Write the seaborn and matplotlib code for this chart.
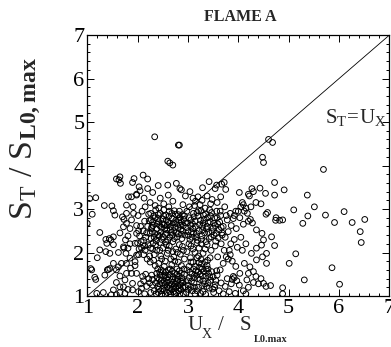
import numpy as np
import pandas as pd
import matplotlib
matplotlib.use("Agg")
import matplotlib.pyplot as plt
from matplotlib.ticker import MultipleLocator
import seaborn as sns

# points, grouped by region (U_X/S_L0max, S_T/S_L0max)
outliers_right = [(4.88, 1.19), (4.88, 1.05), (4.88, 2.75), (4.91, 3.44), (5.10, 2.98), (5.01, 1.75),
                  (5.14, 1.97), (5.28, 2.67), (5.37, 3.32), (5.38, 2.84), (5.51, 3.05), (5.31, 1.37),
                  (5.69, 3.91), (5.73, 2.86), (5.91, 2.69), (5.86, 1.65), (6.10, 2.94), (6.26, 2.69),
                  (6.42, 2.48), (6.44, 2.23), (6.51, 2.76), (6.01, 1.27)]
outliers_top = [(2.34, 4.66), (2.81, 4.47), (2.83, 4.47), (2.60, 4.10), (2.64, 4.06), (2.70, 4.01),
                (4.60, 4.60), (4.68, 4.53), (4.48, 4.19), (4.50, 4.07)]
left_pts = [(1.00, 2.67), (1.10, 2.88), (1.05, 3.24), (1.17, 3.26), (1.25, 2.46), (1.20, 1.88), (1.07, 1.63),
            (1.15, 1.43), (1.17, 1.38), (1.19, 1.06), (1.32, 1.08), (1.34, 3.08), (1.49, 3.07), (1.52, 2.96),
            (1.55, 2.86), (1.37, 2.30), (1.44, 2.32), (1.47, 2.29), (1.37, 2.02), (1.52, 2.18), (1.45, 1.98),
            (1.42, 1.61), (1.40, 1.60), (1.45, 1.63), (1.52, 1.75), (1.62, 1.67), (1.65, 1.46), (1.58, 1.31),
            (1.48, 1.03), (1.58, 1.03), (1.65, 1.08), (1.66, 3.59), (1.58, 3.69), (1.63, 3.67), (1.65, 3.74),
            (1.70, 2.82), (1.73, 2.76), (1.78, 2.90), (1.72, 2.59), (1.78, 2.67), (1.81, 2.38), (1.76, 2.29),
            (1.73, 2.10), (1.81, 2.10), (1.77, 1.98), (1.85, 1.87), (1.78, 1.75), (1.86, 1.64), (1.78, 1.52),
            (1.75, 1.37), (1.72, 1.21), (1.81, 1.15), (1.75, 1.06), (1.90, 1.29), (1.90, 1.14), (1.78, 3.09),
            (1.90, 3.61), (1.93, 3.70), (1.88, 3.28), (1.98, 3.34), (1.91, 3.05), (1.88, 2.75), (1.98, 2.44),
            (1.95, 2.21), (1.98, 1.94), (1.95, 1.79), (1.98, 1.52), (1.52, 2.36), (1.39, 2.21), (1.65, 2.45),
            (1.72, 2.13), (1.68, 1.75), (1.58, 1.60), (1.35, 1.48), (1.25, 2.06), (1.09, 1.60), (1.52, 1.14),
            (1.65, 1.21), (1.88, 1.52), (1.95, 1.70), (1.62, 2.00), (1.85, 2.55), (1.92, 2.90), (1.85, 2.20)]
band_pts = [(2.00, 2.22), (2.04, 2.38), (2.08, 2.10), (2.02, 1.95), (2.12, 2.28), (2.15, 2.05), (2.18, 2.45),
            (2.21, 2.18), (2.24, 1.92), (2.06, 2.60), (2.14, 2.72), (2.20, 2.60), (2.27, 2.32), (2.30, 2.08),
            (2.25, 1.78), (2.33, 1.95), (2.36, 2.18), (2.28, 2.55), (2.11, 2.50), (2.01, 2.85), (2.09, 2.95),
            (2.22, 2.88), (2.16, 2.35), (2.35, 1.70), (2.38, 2.05), (2.26, 2.10), (2.12, 1.95), (1.98, 2.62),
            (2.03, 2.08), (2.19, 1.85), (2.31, 2.22), (2.07, 2.25), (2.23, 2.73), (2.14, 2.15), (2.32, 1.82),
            (2.25, 2.45), (2.02, 2.50), (2.02, 1.10), (2.06, 1.28), (2.10, 1.45), (2.14, 1.05), (2.18, 1.22),
            (2.22, 1.40), (2.26, 1.08), (2.30, 1.25), (2.28, 1.48), (2.12, 1.35), (2.33, 1.12), (2.08, 1.18),
            (2.24, 1.30), (2.16, 1.50), (2.30, 1.38)]
core_a = [(2.27, 2.75), (2.31, 2.62), (2.35, 2.80), (2.29, 2.48), (2.38, 2.55), (2.42, 2.71), (2.45, 2.90),
          (2.33, 2.35), (2.40, 2.41), (2.47, 2.58), (2.50, 2.77), (2.53, 2.64), (2.48, 2.30), (2.56, 2.86),
          (2.58, 2.52), (2.61, 2.70), (2.55, 2.42), (2.63, 2.95), (2.66, 2.60), (2.69, 2.78), (2.64, 2.35),
          (2.72, 2.50), (2.75, 2.88), (2.70, 2.25), (2.78, 2.66), (2.81, 2.43), (2.84, 2.80), (2.80, 2.57),
          (2.87, 2.70), (2.90, 2.49), (2.93, 2.84), (2.88, 2.32), (2.26, 2.90), (2.36, 2.98), (2.44, 2.23),
          (2.52, 2.98), (2.60, 2.28), (2.67, 2.46), (2.73, 2.96), (2.83, 2.95), (2.91, 2.62), (2.30, 2.70),
          (2.39, 2.66), (2.46, 2.46), (2.54, 2.55), (2.62, 2.83), (2.71, 2.68), (2.79, 2.36), (2.86, 2.53),
          (2.94, 2.40), (2.28, 2.58), (2.34, 2.44), (2.41, 2.87), (2.49, 2.66), (2.57, 2.74), (2.65, 2.52),
          (2.74, 2.58), (2.82, 2.74), (2.89, 2.87), (2.95, 2.68), (2.32, 2.84), (2.43, 2.38), (2.51, 2.36),
          (2.59, 2.62), (2.68, 2.90), (2.77, 2.46), (2.85, 2.63), (2.92, 2.76), (2.37, 2.27), (2.56, 2.24),
          (2.63, 2.67), (2.76, 2.74), (2.44, 2.62), (2.52, 2.84), (2.69, 2.40), (2.81, 2.87), (2.40, 2.78),
          (2.58, 2.44), (2.73, 2.32), (2.87, 2.42)]
core_b = [(2.98, 2.95), (3.02, 2.80), (3.05, 2.62), (3.00, 2.48), (3.08, 2.35), (3.11, 2.90), (3.14, 2.72),
          (3.10, 2.55), (3.17, 2.44), (3.20, 2.84), (3.23, 2.64), (3.19, 2.28), (3.26, 2.96), (3.29, 2.52),
          (3.32, 2.76), (3.28, 2.38), (3.35, 2.88), (3.38, 2.60), (3.36, 2.25), (3.41, 2.46), (3.44, 2.70),
          (3.47, 2.92), (3.50, 2.56), (3.46, 2.36), (3.53, 2.80), (3.56, 2.44), (3.59, 2.66), (3.55, 2.26),
          (3.62, 2.52), (3.65, 2.85), (3.68, 2.40), (3.03, 3.05), (3.13, 3.08), (3.24, 3.10), (3.34, 3.02),
          (2.99, 2.68), (3.07, 2.47), (3.15, 2.60), (3.22, 2.50), (3.30, 2.68), (3.39, 2.80), (3.48, 2.48),
          (3.57, 2.95), (3.04, 2.30), (3.12, 2.82), (3.21, 2.96), (3.31, 2.86), (3.42, 2.32), (3.51, 2.67),
          (3.60, 2.34), (2.97, 2.57), (3.06, 2.75), (3.16, 2.36), (3.25, 2.74), (3.33, 2.45), (3.43, 2.98),
          (3.52, 2.40), (3.63, 2.70), (3.01, 2.39), (3.09, 2.66), (3.18, 2.92), (3.27, 2.30), (3.37, 2.54),
          (3.45, 2.84), (3.54, 2.62), (3.66, 2.58), (3.11, 2.44), (3.29, 2.60), (3.40, 2.69), (3.58, 2.80)]
core_c = [(2.37, 1.05), (2.40, 1.22), (2.43, 1.38), (2.38, 1.52), (2.46, 1.12), (2.49, 1.30), (2.52, 1.46),
          (2.47, 1.60), (2.55, 1.03), (2.58, 1.20), (2.61, 1.36), (2.56, 1.55), (2.64, 1.10), (2.67, 1.27),
          (2.70, 1.44), (2.65, 1.62), (2.73, 1.05), (2.76, 1.18), (2.79, 1.33), (2.74, 1.52), (2.82, 1.12),
          (2.85, 1.26), (2.88, 1.42), (2.83, 1.58), (2.91, 1.05), (2.94, 1.20), (2.90, 1.35), (2.93, 1.50),
          (2.41, 1.08), (2.44, 1.28), (2.50, 1.17), (2.53, 1.34), (2.59, 1.08), (2.62, 1.25), (2.68, 1.15),
          (2.71, 1.32), (2.77, 1.08), (2.80, 1.23), (2.86, 1.15), (2.89, 1.30), (2.39, 1.42), (2.45, 1.48),
          (2.51, 1.56), (2.57, 1.41), (2.63, 1.49), (2.69, 1.57), (2.75, 1.40), (2.81, 1.46), (2.87, 1.52),
          (2.92, 1.62), (2.42, 1.16), (2.48, 1.04), (2.54, 1.26), (2.60, 1.44), (2.66, 1.04), (2.72, 1.22),
          (2.78, 1.50), (2.84, 1.04), (2.90, 1.20), (2.36, 1.30), (2.47, 1.36), (2.58, 1.30), (2.69, 1.38),
          (2.80, 1.38), (2.53, 1.12), (2.64, 1.18), (2.75, 1.28), (2.86, 1.34), (2.44, 1.55), (2.61, 1.60),
          (2.78, 1.62), (2.55, 1.48), (2.71, 1.10), (2.83, 1.18), (2.40, 1.62)]
core_d = [(2.97, 1.08), (3.00, 1.25), (3.03, 1.42), (2.98, 1.60), (3.06, 1.78), (3.09, 1.12), (3.12, 1.30),
          (3.08, 1.50), (3.15, 1.68), (3.18, 1.88), (3.14, 1.05), (3.21, 1.20), (3.24, 1.38), (3.20, 1.56),
          (3.27, 1.74), (3.30, 1.10), (3.33, 1.28), (3.29, 1.46), (3.36, 1.62), (3.39, 1.82), (3.35, 1.04),
          (3.42, 1.18), (3.45, 1.36), (3.41, 1.52), (3.51, 1.08), (3.54, 1.26), (3.50, 1.44), (3.57, 1.58),
          (3.59, 1.90), (3.02, 1.68), (3.05, 1.88), (3.11, 1.62), (3.17, 1.48), (3.23, 1.66), (3.26, 1.84),
          (3.32, 1.56), (3.38, 1.70), (3.44, 1.88), (3.47, 1.56), (3.01, 1.15), (3.07, 1.34), (3.13, 1.20),
          (3.19, 1.40), (3.25, 1.06), (3.31, 1.34), (3.37, 1.22), (3.43, 1.44), (3.49, 1.16), (3.55, 1.36),
          (2.99, 1.35), (3.04, 1.55), (3.10, 1.78), (3.16, 1.58), (3.22, 1.76), (3.28, 1.62), (3.34, 1.78),
          (3.40, 1.62), (3.06, 1.20), (3.18, 1.12), (3.28, 1.24), (3.40, 1.30), (3.53, 1.20), (3.12, 1.42),
          (3.24, 1.50), (3.36, 1.46), (3.58, 1.48), (3.21, 1.92)]
mid_pts = [(2.42, 1.75), (2.46, 1.92), (2.50, 2.10), (2.55, 1.80), (2.59, 1.98), (2.63, 2.15), (2.68, 1.72),
           (2.72, 1.90), (2.76, 2.08), (2.81, 1.78), (2.85, 1.96), (2.89, 2.14), (2.93, 1.85), (2.44, 2.05),
           (2.53, 1.68), (2.66, 1.85), (2.79, 2.00), (2.91, 2.05), (2.48, 1.85), (2.61, 2.05), (2.74, 1.80),
           (2.87, 1.70), (2.57, 2.18), (2.70, 2.02), (2.83, 2.18), (2.98, 2.02), (3.06, 2.15), (3.14, 2.00),
           (3.22, 2.10), (3.30, 1.98), (3.38, 2.18), (3.46, 2.05), (3.54, 2.15), (3.02, 2.20), (3.18, 2.22),
           (3.34, 2.08), (3.10, 2.08), (3.26, 2.20)]
right_mid = [(3.62, 1.12), (3.66, 1.30), (3.70, 1.05), (3.74, 1.22), (3.78, 1.40), (3.82, 1.10), (3.86, 1.28),
             (3.90, 1.45), (3.94, 1.06), (3.97, 1.35), (3.88, 1.38), (3.92, 1.42), (3.64, 1.60), (3.70, 1.75),
             (3.76, 1.90), (3.80, 1.85), (3.84, 1.95), (3.82, 2.05), (3.88, 1.80), (3.95, 1.68), (3.72, 2.05),
             (3.66, 2.20), (3.74, 2.35), (3.80, 2.48), (3.86, 2.62), (3.78, 2.75), (3.70, 2.60), (3.64, 2.95),
             (3.76, 2.85), (3.84, 2.90), (3.90, 2.78), (3.96, 2.55), (3.92, 2.30), (3.98, 2.12), (3.68, 2.45),
             (3.85, 2.20), (3.95, 2.95), (3.73, 3.05), (3.92, 2.85), (4.00, 2.95),
             (4.02, 3.38), (4.27, 3.47), (4.30, 3.40), (4.43, 3.48), (4.54, 3.36), (4.72, 3.61), (4.72, 3.32),
             (4.22, 3.30), (4.20, 3.34), (4.05, 3.05), (4.10, 3.10), (4.15, 3.02), (4.12, 2.95), (4.08, 3.15),
             (4.18, 2.90), (4.25, 3.05), (4.35, 3.15), (4.45, 3.12), (4.55, 2.88), (4.58, 2.92), (4.75, 2.80),
             (4.74, 2.74), (4.82, 2.74), (4.03, 2.80), (4.10, 2.65), (4.20, 2.72), (4.24, 2.76), (4.28, 2.68),
             (4.36, 2.52), (4.47, 2.44), (4.50, 2.29), (4.46, 2.17), (4.36, 2.10), (4.15, 2.20), (4.05, 2.35),
             (4.08, 2.05), (4.26, 1.98), (4.36, 1.83), (4.48, 1.90), (4.56, 1.98), (4.56, 1.75), (4.66, 2.36),
             (4.72, 2.16), (4.12, 1.75), (4.23, 1.67), (4.30, 1.56), (4.20, 1.52), (4.17, 1.37), (4.03, 1.52),
             (4.35, 1.45), (4.45, 1.40), (4.02, 1.25), (4.10, 1.12), (4.20, 1.20), (4.30, 1.31), (4.40, 1.28),
             (4.50, 1.29), (4.64, 1.24), (4.55, 1.22), (4.15, 1.05)]
upper_pts = [(2.11, 3.78), (2.20, 3.69), (2.05, 3.42), (2.41, 3.54), (2.60, 3.55), (2.77, 3.59), (2.87, 3.44),
             (2.84, 3.47), (3.29, 3.49), (3.42, 3.63), (3.54, 3.47), (3.57, 3.55), (3.67, 3.57), (3.72, 3.61),
             (2.03, 3.51), (2.20, 3.47), (1.82, 3.28), (1.98, 3.32), (2.13, 3.25), (2.45, 3.25), (2.61, 3.32),
             (3.04, 3.40), (2.25, 3.15), (2.35, 3.08), (2.52, 3.12), (2.70, 3.18), (2.90, 3.10), (3.10, 3.25),
             (3.20, 3.28), (3.28, 3.20), (3.38, 3.30), (3.48, 3.22), (3.58, 3.15), (3.45, 3.12), (2.15, 3.05),
             (2.42, 3.02), (2.62, 3.05), (3.15, 3.18), (3.65, 3.28), (3.75, 3.45), (2.30, 3.38), (2.95, 3.30)]

groups = [outliers_right, outliers_top, left_pts, band_pts, core_a, core_b,
          core_c, core_d, mid_pts, right_mid, upper_pts]
pts = np.array([p for g in groups for p in g])
df = pd.DataFrame(pts, columns=["ux", "st"])
diag = [1, 7]

sns.set_style("ticks")
plt.rcParams["font.family"] = ["Liberation Serif", "DejaVu Serif"]
plt.rcParams["mathtext.fontset"] = "custom"
plt.rcParams["mathtext.rm"] = "Liberation Serif"
plt.rcParams["mathtext.it"] = "Liberation Serif"
plt.rcParams["mathtext.bf"] = "Liberation Serif:bold"

W, H = 391, 347
fig = plt.figure(figsize=(W / 100, H / 100), dpi=100)
ax = fig.add_axes([0.223, 0.147, 0.773, 0.752])


def px(x, y):
    # figure-pixel position (from top-left) -> figure fraction
    return x / W, 1 - y / H


sns.lineplot(x=diag, y=diag, ax=ax, color="black", linewidth=0.6)
sns.scatterplot(data=df, x="ux", y="st", ax=ax, marker="o", s=17,
                facecolor="none", edgecolor="black", linewidth=0.7)

ax.set_xlim(1, 7)
ax.set_ylim(1, 7)
ax.xaxis.set_major_locator(MultipleLocator(1))
ax.yaxis.set_major_locator(MultipleLocator(1))
ax.xaxis.set_minor_locator(MultipleLocator(0.2))
ax.yaxis.set_minor_locator(MultipleLocator(0.2))
ax.tick_params(which="both", direction="in", top=True, right=True, colors="black", width=0.7)
ax.tick_params(which="major", length=5, labelsize=16, pad=2)
ax.tick_params(which="minor", length=2.5)
ax.set_xlabel("")
ax.set_ylabel("")
for sp in ax.spines.values():
    sp.set_color("black")
    sp.set_linewidth(0.9)

# x label built from pieces: small bold subscript as in the original
fig.text(*px(187, 330), "U", fontsize=15, va="baseline", ha="left")
fig.text(*px(202, 338), "X", fontsize=10, va="baseline", ha="left")
fig.text(*px(218, 330), "/", fontsize=15, va="baseline", ha="left")
fig.text(*px(240, 330), "S", fontsize=15, va="baseline", ha="left")
fig.text(*px(254, 342), "L0.max", fontsize=7.5, fontweight="bold", va="baseline", ha="left")

fig.text(*px(26, 138), r"$\mathrm{S_T}$ / $\mathrm{S}_{\mathbf{L0,max}}$", fontsize=24.5,
         rotation=90, ha="center", va="center")
ax.text(5.73, 4.98, r"$\mathrm{S_T\!=\!U_X}$", fontsize=15, va="baseline", ha="left")
fig.text(*px(240, 17), "FLAME A", fontsize=11.5, fontweight="bold", ha="center", va="center")

fig.savefig("out.png", dpi=100)
